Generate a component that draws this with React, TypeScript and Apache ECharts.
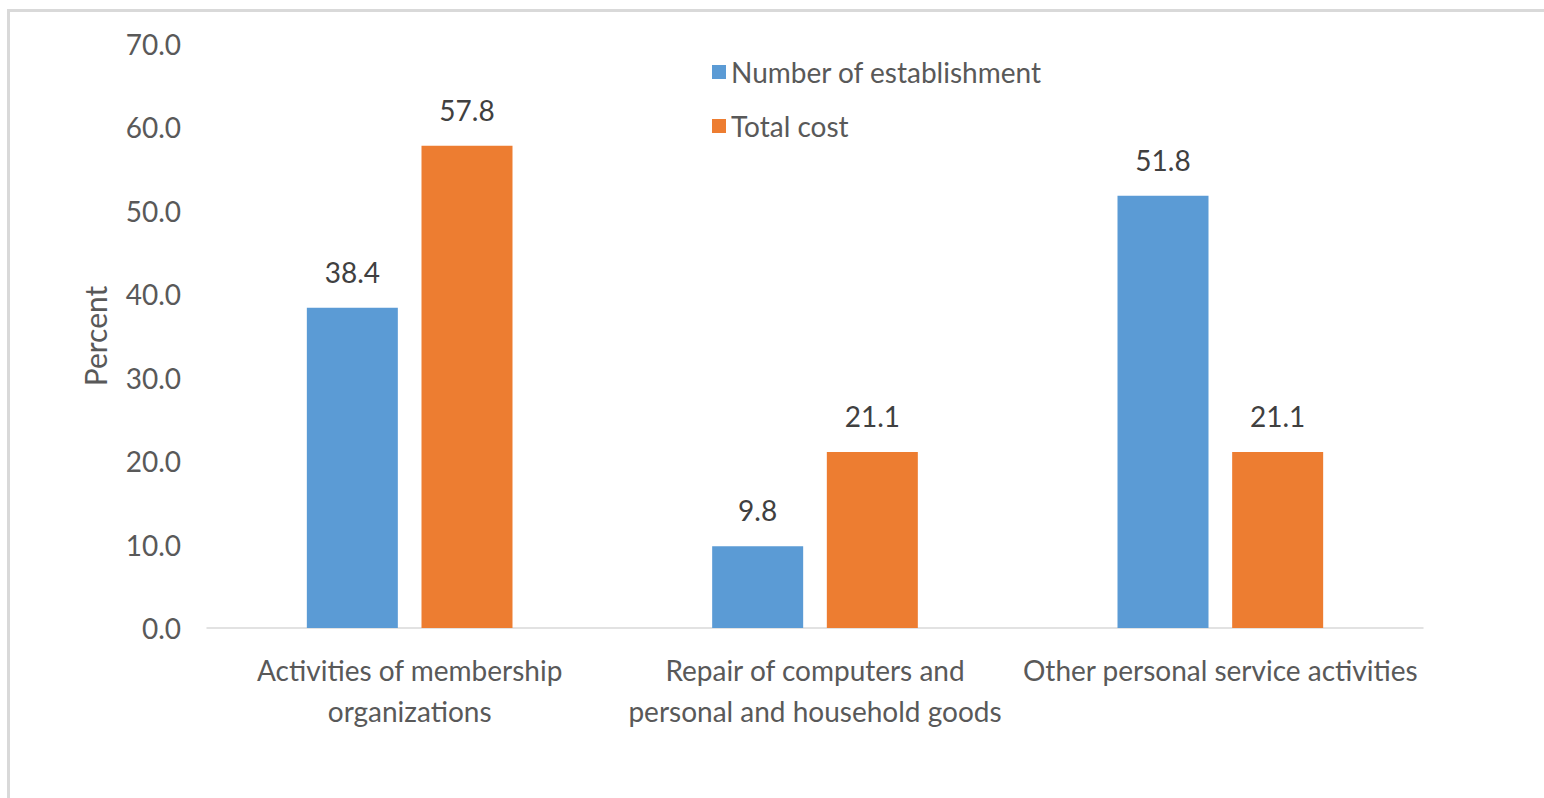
import React, { useEffect, useRef } from "react";
import * as echarts from "echarts";

const categories = [
  "Activities of membership\norganizations",
  "Repair of computers and\npersonal and household goods",
  "Other personal service activities",
];
const establishments = [38.4, 9.8, 51.8];
const totalCost = [57.8, 21.1, 21.1];
const seriesNames = ["Number of establishment", "Total cost"];

const FONT = "Lato";
const FS = 28;

export default function App() {
  const ref = useRef<HTMLDivElement>(null);
  useEffect(() => {
    document.body.style.margin = "0";
    const chart = echarts.init(ref.current!, null, { renderer: "svg" });
    const label = {
      show: true,
      position: "top",
      distance: 22,
      fontSize: FS,
      color: "#404040",
      formatter: (p: any) => p.value.toFixed(1),
      fontFamily: FONT,
    };
    chart.setOption({
      animation: false,
      backgroundColor: "#ffffff",
      textStyle: { fontFamily: FONT },
      graphic: [
        {
          type: "rect",
          shape: { x: 8.5, y: 10.5, width: 1600, height: 900 },
          style: { fill: "none", stroke: "#d9d9d9", lineWidth: 3 },
          silent: true,
        },
      ],
      legend: {
        orient: "vertical",
        left: 707,
        top: 53,
        itemWidth: 14,
        itemHeight: 14,
        itemGap: 26,
        icon: "rect",
        textStyle: { fontSize: FS, color: "#595959", fontFamily: FONT },
        data: seriesNames,
      },
      grid: { left: 207, right: 121, top: 44, bottom: 170 },
      xAxis: {
        type: "category",
        data: categories,
        axisLine: { lineStyle: { color: "#d9d9d9", width: 1.5 } },
        axisTick: { show: false },
        axisLabel: {
          fontSize: FS,
          color: "#595959",
          margin: 21,
          lineHeight: 41,
          interval: 0,
          fontFamily: FONT,
        },
      },
      yAxis: {
        type: "value",
        min: 0,
        max: 70,
        interval: 10,
        name: "Percent",
        nameLocation: "middle",
        nameGap: 97,
        nameTextStyle: { fontSize: 30, color: "#595959", fontFamily: FONT },
        splitLine: { show: false },
        axisLine: { show: false },
        axisTick: { show: false },
        axisLabel: {
          fontSize: FS,
          color: "#595959",
          margin: 26,
          formatter: (v: number) => v.toFixed(1),
          fontFamily: FONT,
        },
      },
      series: [
        {
          name: seriesNames[0],
          type: "bar",
          data: establishments,
          barWidth: 91,
          barGap: "26%",
          itemStyle: { color: "#5b9bd5" },
          label,
        },
        {
          name: seriesNames[1],
          type: "bar",
          data: totalCost,
          barWidth: 91,
          itemStyle: { color: "#ed7d31" },
          label,
        },
      ],
    });
    return () => chart.dispose();
  }, []);
  return (
    <div
      ref={ref}
      style={{ position: "fixed", left: 0, top: 0, width: 1544, height: 798 }}
    />
  );
}
